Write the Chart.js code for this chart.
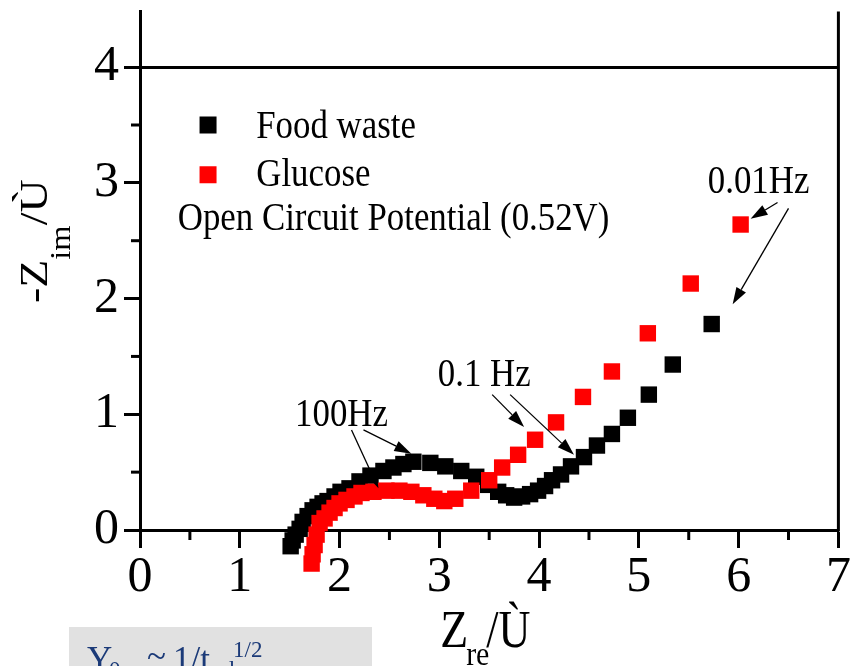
<!DOCTYPE html>
<html>
<head>
<meta charset="utf-8">
<script src="https://cdn.jsdelivr.net/npm/chart.js@4.4.0/dist/chart.umd.min.js"></script>
<style>
  html, body { margin: 0; padding: 0; background: #fff; overflow: hidden; }
  #wrap { width: 850px; height: 666px; position: relative; }
</style>
</head>
<body>
<div id="wrap"><canvas id="c" width="850" height="666"></canvas></div>
<script>
// Nyquist data: real part (ohm) and negative imaginary part (ohm)
const foodWasteX = [1.51,1.53,1.56,1.60,1.63,1.68,1.73,1.78,1.83,1.88,1.95,2.01,2.10,2.20,2.31,2.44,2.54,2.64,2.74,2.91,3.06,3.22,3.37,3.49,3.59,3.67,3.75,3.83,3.91,3.99,4.06,4.13,4.22,4.32,4.45,4.58,4.73,4.89,5.10,5.34,5.73];
const foodWasteY = [-0.14,-0.09,-0.04,0.01,0.07,0.12,0.17,0.20,0.23,0.25,0.29,0.33,0.36,0.42,0.47,0.51,0.54,0.57,0.59,0.58,0.55,0.51,0.46,0.39,0.33,0.30,0.28,0.29,0.31,0.34,0.38,0.43,0.48,0.55,0.63,0.73,0.83,0.97,1.17,1.43,1.78];
const glucoseX = [1.72,1.73,1.75,1.77,1.80,1.85,1.90,1.95,2.00,2.07,2.15,2.22,2.34,2.47,2.60,2.72,2.84,2.95,3.05,3.16,3.32,3.50,3.63,3.79,3.96,4.17,4.44,4.73,5.09,5.52,6.02];
const glucoseY = [-0.29,-0.21,-0.13,-0.04,0.06,0.10,0.15,0.19,0.23,0.26,0.29,0.32,0.33,0.34,0.34,0.33,0.30,0.27,0.25,0.27,0.34,0.43,0.54,0.65,0.78,0.93,1.15,1.37,1.70,2.13,2.64];

const xTickValues = [0, 1, 2, 3, 4, 5, 6, 7];
const yTickValues = [0, 1, 2, 3, 4];
const seriesNames = ['Food waste', 'Glucose'];
const seriesColors = ['#000000', '#ff0000'];
const conditionText = 'Open Circuit Potential (0.52V)';
const freqLabels = ['100Hz', '0.1 Hz', '0.01Hz'];

const SERIF = '"Liberation Serif", "Times New Roman", serif';
const toPoints = (xs, ys) => xs.map((x, i) => ({ x: x, y: ys[i] }));

function textScaled(ctx, str, x, y, size, sx, align) {
  ctx.save();
  ctx.font = size + 'px ' + SERIF;
  ctx.textBaseline = 'alphabetic';
  ctx.textAlign = 'left';
  const w = ctx.measureText(str).width * sx;
  let x0 = x;
  if (align === 'center') x0 = x - w / 2;
  else if (align === 'right') x0 = x - w;
  ctx.translate(x0, y);
  ctx.scale(sx, 1);
  ctx.fillText(str, 0, 0);
  ctx.restore();
  return w;
}

function arrow(ctx, x1, y1, x2, y2) {
  const ang = Math.atan2(y2 - y1, x2 - x1);
  const len = 17, half = 5.5;
  const bx = x2 - len * Math.cos(ang), by = y2 - len * Math.sin(ang);
  ctx.beginPath();
  ctx.moveTo(x1, y1);
  ctx.lineTo(bx, by);
  ctx.stroke();
  ctx.beginPath();
  ctx.moveTo(x2, y2);
  ctx.lineTo(bx + half * Math.sin(ang), by - half * Math.cos(ang));
  ctx.lineTo(bx - half * Math.sin(ang), by + half * Math.cos(ang));
  ctx.closePath();
  ctx.fill();
}

// Markers below the zero line stay visible: widen the drawing area while datasets are painted
const overflowMarkers = {
  id: 'overflowMarkers',
  beforeDatasetsDraw(chart) {
    chart.$savedBottom = chart.chartArea.bottom;
    chart.chartArea.bottom = chart.height;
  },
  afterDatasetsDraw(chart) {
    chart.chartArea.bottom = chart.$savedBottom;
  }
};

const decorations = {
  id: 'decorations',
  afterDraw(chart) {
    const ctx = chart.ctx;
    const xs = chart.scales.x, ys = chart.scales.y;
    const a = chart.chartArea;
    const px = v => xs.getPixelForValue(v);
    const py = v => ys.getPixelForValue(v);

    ctx.save();
    ctx.strokeStyle = '#000';
    ctx.fillStyle = '#000';
    ctx.lineWidth = 3;
    // minor ticks
    for (let v = 0.5; v < 7; v += 1) {
      ctx.beginPath(); ctx.moveTo(px(v), a.bottom); ctx.lineTo(px(v), a.bottom + 10); ctx.stroke();
    }
    for (let v = 0.5; v < ys.max; v += 1) {
      ctx.beginPath(); ctx.moveTo(a.left - 9, py(v)); ctx.lineTo(a.left, py(v)); ctx.stroke();
    }
    // right frame edge
    ctx.beginPath(); ctx.moveTo(px(7), a.top); ctx.lineTo(px(7), a.bottom + 1.5); ctx.stroke();

    // legend
    const sq = 17;
    ctx.fillStyle = seriesColors[0];
    ctx.fillRect(px(0.682) - sq / 2, py(3.50) - sq / 2, sq, sq);
    ctx.fillStyle = seriesColors[1];
    ctx.fillRect(px(0.682) - sq / 2, py(3.07) - sq / 2, sq, sq);
    ctx.fillStyle = '#000';
    textScaled(ctx, seriesNames[0], px(1.165), py(3.39), 41, 0.85, 'left');
    textScaled(ctx, seriesNames[1], px(1.165), py(2.97), 41, 0.85, 'left');
    textScaled(ctx, conditionText, px(0.378), py(2.595), 41, 0.85, 'left');

    // frequency markers
    textScaled(ctx, freqLabels[0], px(2.02), py(0.90), 41, 0.85, 'center');
    textScaled(ctx, freqLabels[1], px(3.45), py(1.242), 41, 0.85, 'center');
    textScaled(ctx, freqLabels[2], px(6.20), py(2.91), 41, 0.85, 'center');
    ctx.lineWidth = 1.3;
    arrow(ctx, px(2.12), py(0.865), px(2.39), py(0.36));
    arrow(ctx, px(2.24), py(0.865), px(2.72), py(0.66));
    arrow(ctx, px(3.53), py(1.17), px(3.85), py(0.89));
    arrow(ctx, px(3.71), py(1.17), px(4.35), py(0.65));
    arrow(ctx, px(6.39), py(2.83), px(6.12), py(2.69));
    arrow(ctx, px(6.50), py(2.78), px(5.94), py(1.95));

    // x axis title: Z_re / Ù
    const tx = (a.left + a.right) / 2 - 49;
    const tb = 647;
    let w = textScaled(ctx, 'Z', tx, tb, 52, 0.88, 'left');
    textScaled(ctx, 're', tx + w - 2, tb + 18, 34, 0.88, 'left');
    textScaled(ctx, '/Ù', tx + 46, tb, 52, 0.85, 'left');

    // y axis title: -Z_im / Ù (rotated)
    ctx.save();
    ctx.translate(47, 303);
    ctx.rotate(-Math.PI / 2);
    ctx.scale(1.12, 1);
    ctx.font = '41px ' + SERIF;
    ctx.textBaseline = 'alphabetic';
    ctx.fillText('-Z', 0, 0);
    let w1 = ctx.measureText('-Z').width;
    ctx.font = '29px ' + SERIF;
    ctx.fillText('im', w1, 23);
    let w2 = ctx.measureText('im').width;
    ctx.font = '41px ' + SERIF;
    ctx.fillText('/Ù', w1 + w2, 0);
    ctx.restore();

    // note box with formula
    ctx.fillStyle = '#e1e1e1';
    ctx.fillRect(69, 627, 303, 45);
    ctx.fillStyle = '#1b3a78';
    ctx.font = '35px ' + SERIF;
    ctx.fillText('Y', 87, 671);
    ctx.font = '23px ' + SERIF;
    ctx.fillText('0,w', 109, 677);
    ctx.font = '35px ' + SERIF;
    ctx.fillText('~', 147, 668);
    ctx.fillText('1/t', 173, 671);
    ctx.font = '23px ' + SERIF;
    ctx.fillText('d', 223, 677);
    ctx.fillText('1/2', 233, 657);
    ctx.font = '35px ' + SERIF;
    ctx.fillText(',', 275, 671);
    ctx.restore();
  }
};

new Chart(document.getElementById('c').getContext('2d'), {
  type: 'scatter',
  data: {
    datasets: [
      { label: seriesNames[0], data: toPoints(foodWasteX, foodWasteY), pointStyle: 'rect', pointRadius: 11.6,
        backgroundColor: seriesColors[0], borderColor: seriesColors[0], borderWidth: 0, order: 2, clip: false },
      { label: seriesNames[1], data: toPoints(glucoseX, glucoseY), pointStyle: 'rect', pointRadius: 11.6,
        backgroundColor: seriesColors[1], borderColor: seriesColors[1], borderWidth: 0, order: 1, clip: false }
    ]
  },
  options: {
    responsive: false,
    animation: false,
    devicePixelRatio: 1,
    events: [],
    layout: { padding: { top: 7, right: 7, left: 0, bottom: 0 } },
    plugins: { legend: { display: false }, tooltip: { enabled: false } },
    scales: {
      x: {
        type: 'linear', min: 0, max: 7, position: 'bottom',
        afterBuildTicks: s => { s.ticks = xTickValues.map(v => ({ value: v })); },
        afterFit: s => { s.height = 136; s.paddingLeft = 0; s.paddingRight = 0; },
        ticks: { font: { family: SERIF, size: 50 }, color: '#000', padding: 0, maxRotation: 0, autoSkip: false },
        grid: { drawOnChartArea: false, tickLength: 18, tickWidth: 3, tickColor: '#000' },
        border: { display: true, width: 3, color: '#000' }
      },
      y: {
        type: 'linear', min: 0, max: 4.48, position: 'left',
        afterBuildTicks: s => { s.ticks = yTickValues.map(v => ({ value: v })); },
        afterFit: s => { s.width = 140; s.paddingTop = 0; s.paddingBottom = 0; },
        ticks: { font: { family: SERIF, size: 50 }, color: '#000', padding: 5, autoSkip: false },
        grid: {
          drawOnChartArea: true, tickLength: 16, tickWidth: 3, tickColor: '#000', lineWidth: 3,
          color: c => (c.tick && c.tick.value === 4) ? '#000' : 'rgba(0,0,0,0)'
        },
        border: { display: true, width: 3, color: '#000' }
      }
    }
  },
  plugins: [overflowMarkers, decorations]
});
</script>
</body>
</html>
